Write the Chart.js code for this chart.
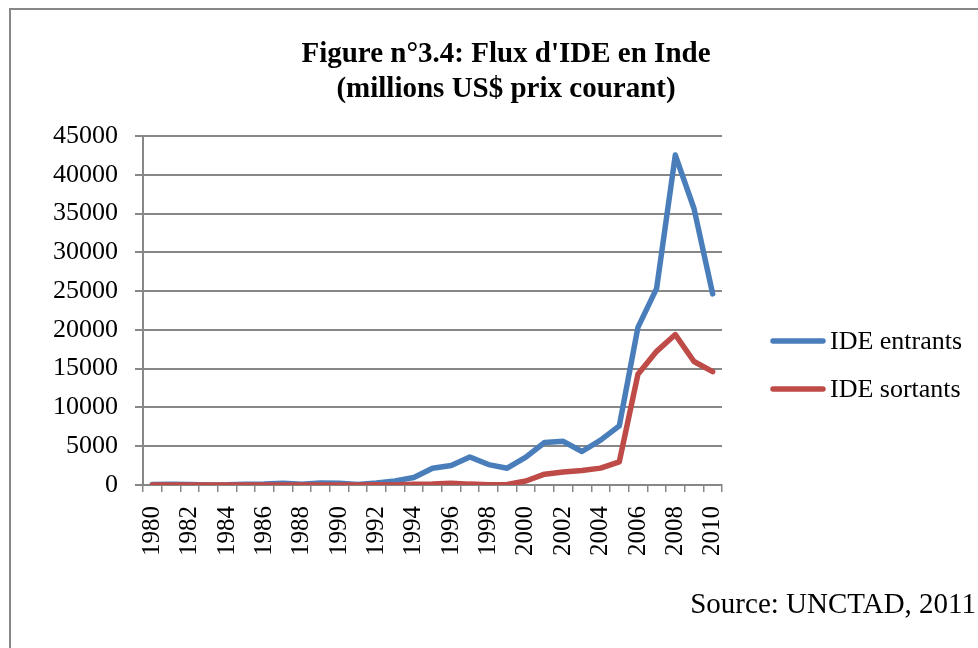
<!DOCTYPE html>
<html>
<head>
<meta charset="utf-8">
<style>
  html, body { margin: 0; padding: 0; background: #ffffff; }
  #wrap { position: relative; width: 978px; height: 648px; }
</style>
<script src="https://cdn.jsdelivr.net/npm/chart.js@4.4.1/dist/chart.umd.min.js"></script>
</head>
<body>
<div id="wrap"><canvas id="c" width="978" height="648"></canvas></div>
<script>
const years = ['1980','1981','1982','1983','1984','1985','1986','1987','1988','1989',
  '1990','1991','1992','1993','1994','1995','1996','1997','1998','1999',
  '2000','2001','2002','2003','2004','2005','2006','2007','2008','2009','2010'];
const ideEntrants = [79, 92, 72, 6, 19, 106, 118, 212, 91, 252,
  237, 75, 252, 532, 974, 2151, 2525, 3619, 2633, 2168,
  3588, 5478, 5630, 4321, 5778, 7622, 20328, 25350, 42546, 35649, 24640];
const ideSortants = [4, 5, 1, 5, 4, 1, 3, 1, 9, 10,
  6, 11, 24, 0, 83, 117, 240, 113, 48, 79,
  514, 1397, 1678, 1876, 2175, 2985, 14285, 17234, 19397, 15929, 14626];
const yTicks = [0, 5000, 10000, 15000, 20000, 25000, 30000, 35000, 40000, 45000];
const titleLines = ["Figure n°3.4: Flux d'IDE en Inde", "(millions US$ prix courant)"];
const sourceText = 'Source: UNCTAD, 2011';

const SERIF = '"Liberation Serif", "Times New Roman", serif';
const GRID = '#878787';

const decorPlugin = {
  id: 'decor',
  afterDraw(chart) {
    const ctx = chart.ctx;
    ctx.save();
    // frame
    ctx.strokeStyle = GRID;
    ctx.lineWidth = 2;
    ctx.beginPath();
    ctx.moveTo(10, 648);
    ctx.lineTo(10, 9);
    ctx.lineTo(978, 9);
    ctx.stroke();
    // title
    ctx.fillStyle = '#000';
    ctx.font = 'bold 29px ' + SERIF;
    ctx.textAlign = 'center';
    ctx.textBaseline = 'middle';
    ctx.fillText(titleLines[0], 506, 55);
    ctx.fillText(titleLines[1], 506, 90);
    // legend
    ctx.font = '26px ' + SERIF;
    ctx.textAlign = 'left';
    const legY = [341, 389];
    chart.data.datasets.forEach((ds, i) => {
      ctx.strokeStyle = ds.borderColor;
      ctx.lineWidth = 5.5;
      ctx.lineCap = 'round';
      ctx.beginPath();
      ctx.moveTo(773, legY[i]);
      ctx.lineTo(823, legY[i]);
      ctx.stroke();
      ctx.fillStyle = '#000';
      ctx.fillText(ds.label, 830, legY[i] + 1);
    });
    // source
    ctx.font = '29px ' + SERIF;
    ctx.textAlign = 'right';
    ctx.textBaseline = 'alphabetic';
    ctx.fillText(sourceText, 976, 613);
    ctx.restore();
  }
};

new Chart(document.getElementById('c'), {
  type: 'line',
  data: {
    labels: years,
    datasets: [
      { label: 'IDE entrants', data: ideEntrants, borderColor: '#4A7EBB', backgroundColor: '#4A7EBB', order: 1,
        borderWidth: 5.5, pointRadius: 0, tension: 0, borderCapStyle: 'round', borderJoinStyle: 'round' },
      { label: 'IDE sortants', data: ideSortants, borderColor: '#BE4B48', backgroundColor: '#BE4B48', order: 0,
        borderWidth: 5.5, pointRadius: 0, tension: 0, borderCapStyle: 'round', borderJoinStyle: 'round' }
    ]
  },
  options: {
    responsive: false,
    animation: false,
    layout: { padding: { top: 136, right: 256, bottom: 0, left: 0 } },
    plugins: { legend: { display: false }, title: { display: false }, tooltip: { enabled: false } },
    scales: {
      x: {
        type: 'category',
        offset: true,
        grid: { display: true, offset: true, drawOnChartArea: false, drawTicks: true, tickLength: 7, color: GRID, lineWidth: 1.5 },
        border: { display: true, color: GRID, width: 2 },
        ticks: {
          autoSkip: false, maxRotation: 90, minRotation: 90, padding: 14,
          color: '#000', font: { family: SERIF, size: 25 },
          callback: function(v, i) { return i % 2 === 0 ? years[i] : ''; }
        },
        afterFit: function(s) { s.height = 163; }
      },
      y: {
        min: 0, max: 45000,
        afterBuildTicks: function(s) { s.ticks = yTicks.map(v => ({ value: v })); },
        grid: { color: GRID, lineWidth: 2, tickLength: 8, drawTicks: true },
        border: { display: true, color: GRID, width: 2 },
        ticks: { padding: 17, color: '#000', font: { family: SERIF, size: 26 },
          callback: function(v) { return String(v); } },
        afterFit: function(s) { s.width = 143; }
      }
    }
  },
  plugins: [decorPlugin]
});
</script>
</body>
</html>
